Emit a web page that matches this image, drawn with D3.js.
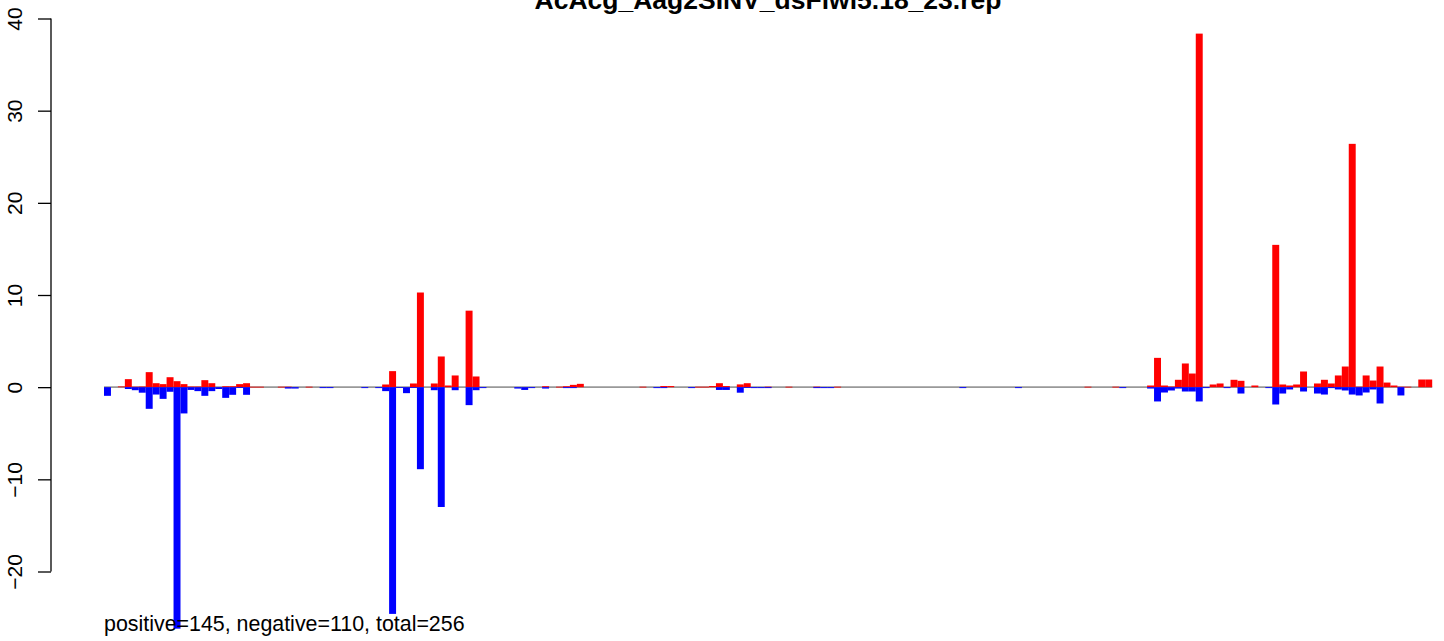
<!DOCTYPE html>
<html>
<head>
<meta charset="utf-8">
<script src="https://cdn.jsdelivr.net/npm/d3@7"></script>
<style>
  html, body { margin: 0; padding: 0; background: #fff; }
  svg { display: block; font-family: "Liberation Sans", Arial, Helvetica, sans-serif; }
</style>
</head>
<body>
<svg id="chart" width="1444" height="641"></svg>
<script>
// ---- data ----
const title = "AcAcg_Aag2SINV_dsFlwi5.18_23.rep";
const footer = "positive=145, negative=110, total=256";
const yTicks = [-20, -10, 0, 10, 20, 30, 40];

// positive (red) values per position
const positive = [
  0, 0, 0.08, 0.87, 0.05, 0.07, 1.63, 0.43, 0.33, 1.08,
  0.65, 0.33, 0.07, 0.07, 0.76, 0.43, 0, 0.1, 0.1, 0.33,
  0.43, 0.05, 0.05, 0, 0, 0.05, 0.05, 0, 0, 0.05,
  0, 0, 0, 0, 0, 0, 0, 0, 0, 0,
  0.29, 1.74, 0, 0, 0.4, 10.27, 0, 0.4, 3.33, 0.18,
  1.27, 0, 8.3, 1.16, 0, 0, 0, 0, 0, 0,
  0, 0, 0, 0.1, 0, 0.05, 0.1, 0.25, 0.36, 0,
  0, 0, 0, 0, 0, 0, 0, 0.05, 0, 0,
  0.12, 0.12, 0, 0, 0, 0.05, 0.05, 0.12, 0.43, 0.12,
  0, 0.3, 0.43, 0, 0, 0.05, 0, 0, 0.05, 0,
  0, 0, 0.05, 0, 0, 0.05, 0, 0, 0, 0,
  0, 0, 0, 0, 0, 0, 0, 0, 0, 0,
  0, 0, 0, 0, 0, 0, 0, 0, 0, 0,
  0, 0, 0, 0, 0, 0, 0, 0, 0, 0,
  0, 0.05, 0, 0, 0, 0.05, 0, 0, 0, 0,
  0.18, 3.18, 0.18, 0.07, 0.8, 2.57, 1.48, 38.36, 0, 0.29,
  0.4, 0, 0.8, 0.69, 0, 0.18, 0, 0, 15.44, 0.29,
  0.18, 0.29, 1.7, 0, 0.4, 0.8, 0.4, 1.27, 2.24, 26.4,
  0.05, 1.27, 0.72, 2.24, 0.5, 0.18, 0.05, 0.05, 0, 0.83,
  0.83
];

// negative (blue) values per position
const negative = [
  -0.94, 0, 0, -0.2, -0.33, -0.6, -2.35, -0.8, -1.27, -0.5,
  -26.2, -2.85, -0.3, -0.43, -0.94, -0.43, -0.2, -1.16, -0.83, -0.07,
  -0.83, 0, 0, 0, 0, 0, -0.15, -0.15, 0, 0,
  0, -0.1, -0.1, 0, 0, 0, 0, -0.1, 0, -0.1,
  -0.43, -24.6, -0.05, -0.65, -0.08, -8.9, 0, -0.33, -13.0, 0,
  -0.33, 0, -1.95, -0.33, -0.1, 0, 0, 0, 0, -0.15,
  -0.3, -0.1, 0, -0.15, 0, 0, -0.1, -0.1, 0, 0,
  0, 0, 0, 0, 0, 0, 0, 0, 0, -0.1,
  -0.1, 0, 0, 0, -0.1, 0, 0, 0, -0.3, -0.3,
  0, -0.6, -0.05, -0.1, -0.1, -0.1, 0, 0, 0, 0,
  0, 0, -0.1, -0.1, -0.1, 0, 0, 0, 0, 0,
  0, 0, 0, 0, 0, 0, 0, 0, 0, 0,
  0, 0, 0, -0.1, 0, 0, 0, 0, 0, 0,
  0, -0.1, 0, 0, 0, 0, 0, 0, 0, 0,
  0, 0, 0, 0, 0, 0, -0.1, 0, 0, 0,
  -0.15, -1.55, -0.58, -0.36, -0.15, -0.47, -0.47, -1.55, -0.1, 0,
  0, -0.1, 0, -0.69, 0, 0, 0, -0.1, -1.88, -0.69,
  -0.25, 0, -0.47, 0, -0.69, -0.8, -0.1, -0.25, -0.36, -0.8,
  -0.9, -0.58, -0.25, -1.77, 0, 0, -0.9, 0, 0, 0,
  0
];

// ---- layout ----
const svg = d3.select("#chart");
svg.append("rect").attr("width", 1444).attr("height", 641).attr("fill", "#fff");

const idx = d3.range(positive.length);
const x = d3.scaleBand().domain(idx).range([104, 1432.2]).padding(0);
const y = d3.scaleLinear().domain([-20, 40]).range([571.5, 18.5]);

// zero line
svg.append("line")
  .attr("x1", x(0)).attr("x2", x(idx.length - 1) + x.bandwidth())
  .attr("y1", y(0)).attr("y2", y(0))
  .attr("stroke", "#999").attr("stroke-width", 1.6);

// positive bars
svg.append("g").selectAll("rect")
  .data(idx.filter(i => positive[i] !== 0))
  .join("rect")
  .attr("x", i => x(i))
  .attr("width", x.bandwidth())
  .attr("y", i => y(positive[i]))
  .attr("height", i => Math.max(0.8, y(0) - y(positive[i])))
  .attr("fill", "#ff0000");

// negative bars
svg.append("g").selectAll("rect")
  .data(idx.filter(i => negative[i] !== 0))
  .join("rect")
  .attr("x", i => x(i))
  .attr("width", x.bandwidth())
  .attr("y", y(0))
  .attr("height", i => Math.max(0.8, y(negative[i]) - y(0)))
  .attr("fill", "#0000ff");

// y axis (R style)
const axisX = 51;
const yAxis = d3.axisLeft(y).tickValues(yTicks).tickSize(13).tickPadding(0)
  .tickFormat(d => d < 0 ? "\u2212" + Math.abs(d) : String(d));
const ag = svg.append("g").attr("transform", `translate(${axisX},0)`).call(yAxis);
ag.select(".domain").attr("d", `M0,${y(-20)}V${y(40)}`).attr("stroke", "#000").attr("stroke-width", 1.3);
ag.selectAll(".tick line").attr("stroke", "#000").attr("stroke-width", 1.3);
ag.selectAll(".tick text")
  .attr("x", 0).attr("y", 0).attr("dy", 0)
  .attr("transform", `translate(${22 - axisX},0) rotate(-90)`)
  .attr("text-anchor", "middle")
  .attr("font-size", 21)
  .attr("font-family", "Liberation Sans, Arial, sans-serif")
  .attr("fill", "#000");

// title (partly above the top edge, as in the reference)
svg.append("text")
  .attr("x", 768).attr("y", 9)
  .attr("text-anchor", "middle")
  .attr("font-weight", "bold")
  .attr("font-size", 26.5)
  .attr("fill", "#000")
  .text(title);

// footer text
svg.append("text")
  .attr("x", 104).attr("y", 631)
  .attr("font-size", 21.4)
  .attr("fill", "#000")
  .text(footer);
</script>
</body>
</html>
